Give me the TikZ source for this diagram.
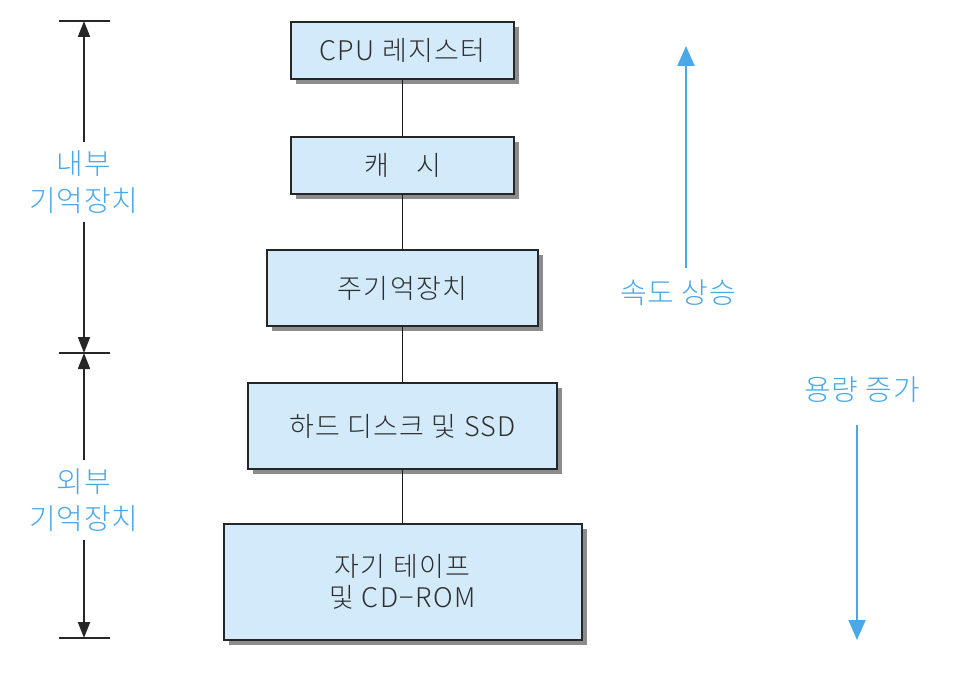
\documentclass[tikz,border=0pt]{standalone}
\usepackage{fontspec}
\setmainfont{Noto Sans CJK KR}[UprightFont={* Light}]
\usetikzlibrary{shadows,arrows.meta}
\definecolor{boxfill}{HTML}{D2EAF9}
\definecolor{lbl}{HTML}{4AA8E8}
\definecolor{txt}{HTML}{2E2E2E}
\begin{document}
\begin{tikzpicture}[x=1pt,y=-1pt,
  membox/.style={draw=black!85,line width=2pt,fill=boxfill,text=txt,
    font=\fontsize{27}{33}\selectfont\addfontfeatures{LetterSpace=5},align=center,inner sep=0pt,
    drop shadow={shadow xshift=5pt,shadow yshift=-5pt,fill=black!45,opacity=1}},
  link/.style={draw=black!90,line width=1.5pt},
  dim/.style={draw=black!85,line width=2pt,-{Triangle[length=16pt,width=12pt]}},
  bar/.style={draw=black!85,line width=2pt},
  sidelbl/.style={text=lbl,font=\fontsize{29}{37}\selectfont\addfontfeatures{LetterSpace=3},align=center,inner sep=0pt},
  trend/.style={draw=lbl,line width=2pt,-{Triangle[length=20pt,width=17pt]}}]
\useasboundingbox (0,0) rectangle (968,674);
% boxes
\node[membox,minimum width=223pt,minimum height=57pt] (b1) at (402.5,50.5) {CPU 레지스터};
\node[membox,minimum width=223pt,minimum height=57pt] (b2) at (402.5,165.5) {캐\quad 시};
\node[membox,minimum width=271pt,minimum height=76pt] (b3) at (402.5,288) {주기억장치};
\node[membox,minimum width=309pt,minimum height=86pt] (b4) at (402.5,426) {하드 디스크 및 SSD};
\node[membox,minimum width=358pt,minimum height=116pt] (b5) at (402.5,582) {자기 테이프\\[-2pt]및 CD−ROM};
\draw[link] (b1) -- (b2);
\draw[link] (b2) -- (b3);
\draw[link] (b3) -- (b4);
\draw[link] (b4) -- (b5);
% left dimension
\coordinate (t1) at (84,21);
\coordinate (t2) at (84,353);
\coordinate (t3) at (84,638);
\coordinate (t1l) at (59,21); \coordinate (t1r) at (110,21);
\coordinate (t2l) at (59,353); \coordinate (t2r) at (110,353);
\coordinate (t3l) at (59,638); \coordinate (t3r) at (110,638);
\draw[bar] (t1l) -- (t1r);
\draw[bar] (t2l) -- (t2r);
\draw[bar] (t3l) -- (t3r);
\node[sidelbl] (inner) at (84,182) {내부\\기억장치};
\node[sidelbl] (outer) at (84,500) {외부\\기억장치};
\draw[dim] (inner.north) ++(0,-8) -- (t1);
\draw[dim] (inner.south) ++(0,8) -- (t2);
\draw[dim] (outer.north) ++(0,-8) -- (t2);
\draw[dim] (outer.south) ++(0,8) -- (t3);
% right trends
\node[sidelbl] (speed) at (678,293) {속도 상승};
\coordinate (speedtop) at (686,46);
\draw[trend] (686,268) -- (speedtop);
\node[sidelbl] (cap) at (862,390) {용량 증가};
\coordinate (capbot) at (857,640);
\draw[trend] (857,425) -- (capbot);
\end{tikzpicture}
\end{document}
